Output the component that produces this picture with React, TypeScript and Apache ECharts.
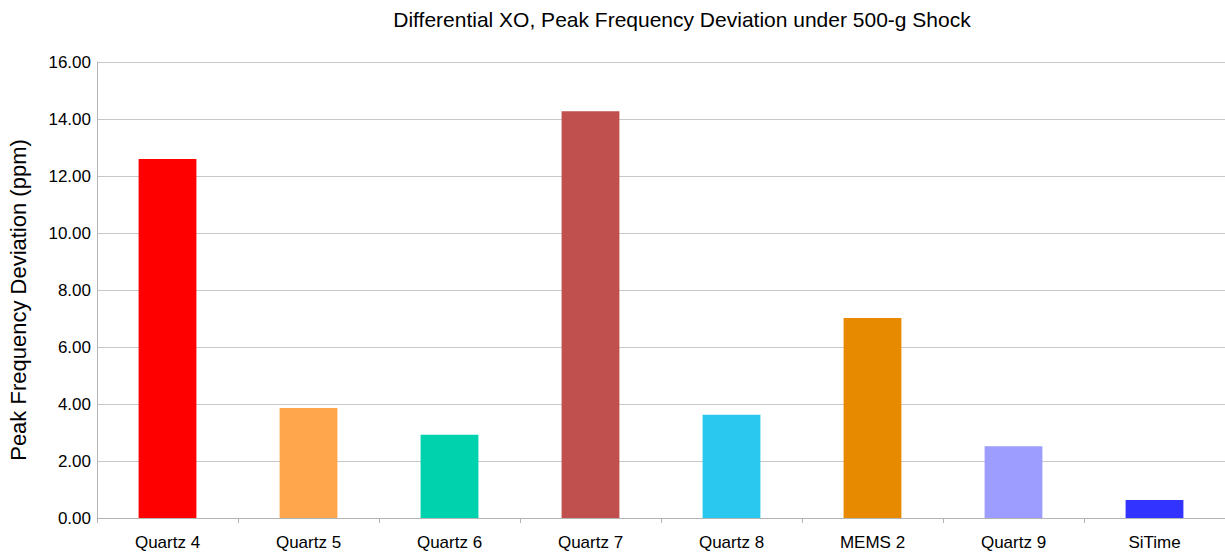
import React, { useEffect, useRef } from "react";
import * as echarts from "echarts";

const categories = ["Quartz 4", "Quartz 5", "Quartz 6", "Quartz 7", "Quartz 8", "MEMS 2", "Quartz 9", "SiTime"];
const values = [12.6, 3.86, 2.92, 14.27, 3.62, 7.02, 2.52, 0.63];
const colors = ["#ff0000", "#ffa64d", "#00d2ae", "#c0504d", "#2ac8ee", "#e88a00", "#9d9dff", "#3333ff"];

export default function App() {
  const ref = useRef<HTMLDivElement>(null);
  useEffect(() => {
    document.body.style.margin = "0";
    const chart = echarts.init(ref.current!, null, { renderer: "svg" });
    chart.setOption({
      animation: false,
      title: {
        text: "Differential XO, Peak Frequency Deviation under 500-g Shock",
        left: 677,
        textAlign: "center",
        top: 4,
        textStyle: { fontFamily: "Liberation Sans", fontSize: 21, fontWeight: "normal", color: "#000" },
      },
      grid: { left: 97, right: 0, top: 62, bottom: 34, containLabel: false, outerBoundsMode: "none" },
      xAxis: {
        type: "category",
        data: categories,
        axisLine: { lineStyle: { color: "#b3b3b3" } },
        axisTick: { show: true, length: 5, lineStyle: { color: "#b3b3b3" } },
        axisLabel: { fontFamily: "Liberation Sans", fontSize: 17, color: "#000", margin: 16 },
      },
      yAxis: {
        type: "value",
        min: 0,
        max: 16,
        interval: 2,
        name: "Peak Frequency Deviation (ppm)",
        nameLocation: "middle",
        nameGap: 68,
        nameTextStyle: { fontFamily: "Liberation Sans", fontSize: 22, color: "#000", padding: [0, 20, 0, 0] },
        axisLine: { show: true, lineStyle: { color: "#b3b3b3" } },
        axisTick: { show: false },
        splitLine: { lineStyle: { color: "#c8c8c8" } },
        axisLabel: {
          fontFamily: "Liberation Sans",
          fontSize: 17,
          color: "#000",
          margin: 6,
          formatter: (v: number) => v.toFixed(2),
        },
      },
      series: [
        {
          type: "bar",
          data: values.map((v, i) => ({ value: v, itemStyle: { color: colors[i] } })),
          barWidth: "41%",
        },
      ],
    });
    return () => chart.dispose();
  }, []);
  return <div ref={ref} style={{ width: 1225, height: 552 }} />;
}
